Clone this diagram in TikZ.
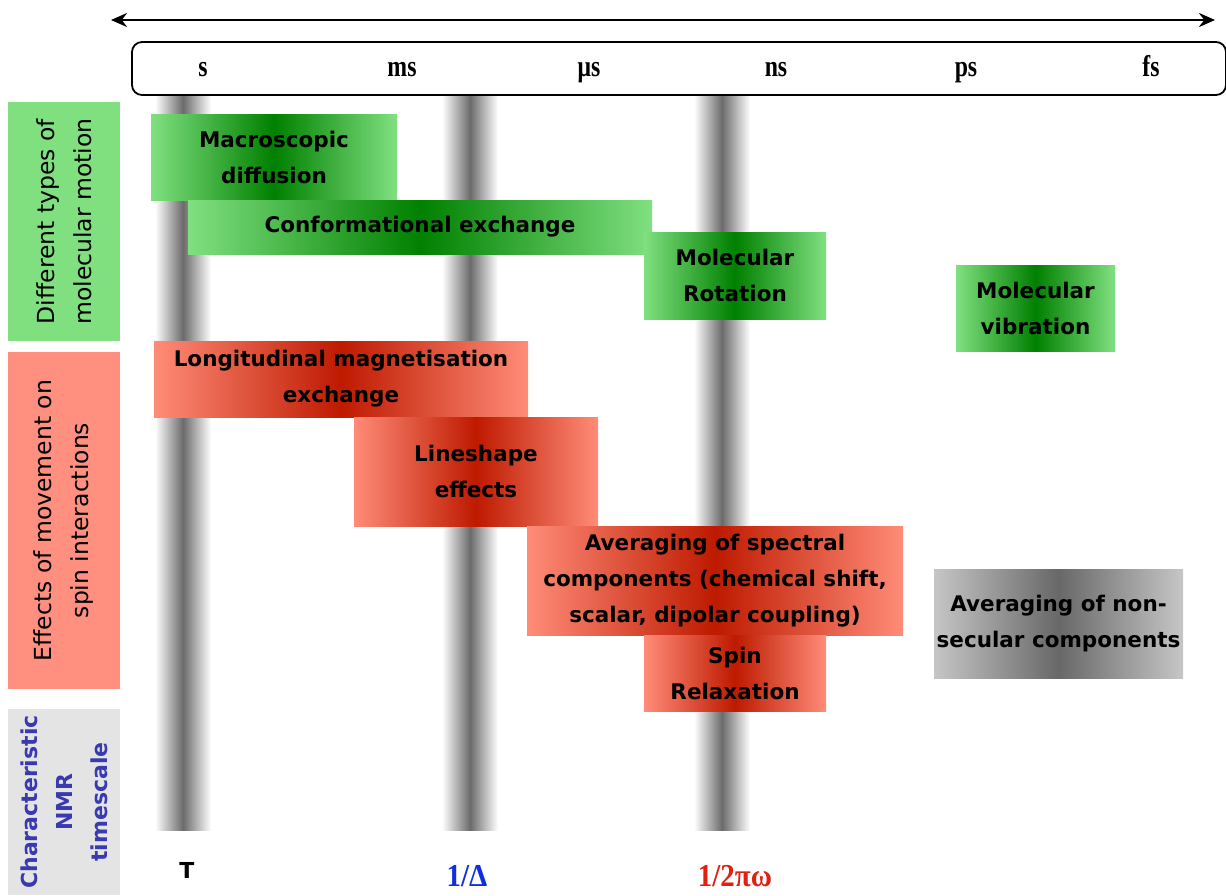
\documentclass[tikz,border=0pt]{standalone}
\usepackage{fontspec}
\usepackage{graphicx}
\setmainfont{Liberation Serif}
\newfontfamily\comic{DejaVu Sans}
\usetikzlibrary{arrows.meta}
\definecolor{lgreen}{HTML}{80E080}
\definecolor{dgreen}{HTML}{008000}
\definecolor{lred}{HTML}{FF8C78}
\definecolor{dred}{HTML}{BE1A00}
\definecolor{lgray}{HTML}{C6C6C6}
\definecolor{dgray}{HTML}{686868}
\definecolor{sidered}{HTML}{FF9080}
\definecolor{sidegray}{HTML}{E4E4E4}
\definecolor{nmrblue}{HTML}{3A3AB0}
\definecolor{dblue}{HTML}{1030E0}
\definecolor{dredtxt}{HTML}{E02010}
\newcommand{\tall}[1]{\scalebox{0.95}[1.2]{#1}}
\newcommand{\talll}[1]{\scalebox{1}[1.1]{#1}}
\begin{document}
\begin{tikzpicture}[x=1pt,y=-1pt,
  bar/.style={draw=none,inner sep=0pt,minimum width=56pt,minimum height=742pt,left color=white,right color=white,middle color=black!58},
  unit/.style={font=\fontsize{25}{28}\selectfont\bfseries,inner sep=0pt,anchor=base},
  side/.style={draw=none,inner sep=0pt,minimum height=112pt,rotate=90,align=center,font=\comic\fontsize{23.5}{37}\selectfont},
  boxfont/.style={font=\comic\bfseries\fontsize{21.5}{36}\selectfont},
  gbox/.style={draw=none,inner sep=0pt,align=center,left color=lgreen,right color=lgreen,middle color=dgreen,boxfont},
  rbox/.style={draw=none,inner sep=0pt,align=center,left color=lred,right color=lred,middle color=dred,boxfont},
  kbox/.style={draw=none,inner sep=0pt,align=center,left color=lgray,right color=lgray,middle color=dgray,boxfont},
  btm/.style={font=\fontsize{29}{32}\selectfont\bfseries,inner sep=0pt,anchor=base}]
\useasboundingbox (0,0) rectangle (1226,895);
% vertical timescale bars
\node[bar] (b1) at (183,459) {};
\node[bar] (b2) at (470,459) {};
\node[bar] (b3) at (722,459) {};
% top axis
\coordinate (al) at (111,20);
\coordinate (ar) at (1215,20);
\draw[{Stealth[length=16pt,width=14pt]}-{Stealth[length=16pt,width=14pt]},line width=2.5pt] (al) -- (ar);
\node[draw,line width=1.8pt,rounded corners=10pt,minimum width=1094pt,minimum height=53pt,inner sep=0pt,fill=white] (scale) at (679,68.5) {};
\node[unit] (s) at (203,76) {\tall{s}};
\node[unit] (ms) at (402,76) {\tall{ms}};
\node[unit] (us) at (589,76) {\tall{μs}};
\node[unit] (ns) at (776,76) {\tall{ns}};
\node[unit] (ps) at (966,76) {\tall{ps}};
\node[unit] (fs) at (1151,76) {\tall{fs}};
% side labels
\node[side,fill=lgreen,minimum width=239pt] (lab1) at (64,221.5) {Different types of\\molecular motion};
\node[side,fill=sidered,minimum width=337pt] (lab2) at (64,520.5) {Effects of movement on\\spin interactions};
\node[side,fill=sidegray,minimum width=186pt,text=nmrblue,font=\comic\bfseries\fontsize{22}{35}\selectfont] (lab3) at (64,802) {Characteristic\\NMR\\timescale};
% green boxes
\node[gbox,minimum width=246pt,minimum height=86pt] (macro) at (274,157) {Macroscopic\\diffusion};
\node[gbox,minimum width=464pt,minimum height=54pt] (conf) at (420,227) {Conformational exchange};
\node[gbox,minimum width=182pt,minimum height=87pt] (rot) at (735,275.5) {Molecular\\Rotation};
\node[gbox,minimum width=159pt,minimum height=86pt] (vib) at (1035.5,308) {Molecular\\vibration};
% red boxes
\node[rbox,minimum width=374pt,minimum height=76pt] (long) at (341,379) {Longitudinal magnetisation\\exchange};
\node[rbox,minimum width=244pt,minimum height=109pt] (line) at (476,471.5) {Lineshape\\effects};
\node[rbox,minimum width=376pt,minimum height=109pt] (avg) at (715,580.5) {Averaging of spectral\\components (chemical shift,\\scalar, dipolar coupling)};
\node[rbox,minimum width=182pt,minimum height=76pt] (spin) at (735,673) {Spin\\Relaxation};
% gray box
\node[kbox,minimum width=249pt,minimum height=109pt] (nonsec) at (1058.5,623.5) {Averaging of non-\\secular components};
% bottom labels
\node[btm,font=\comic\bfseries\fontsize{22}{24}\selectfont] (T) at (187,878) {T};
\node[btm,text=dblue] (delta) at (467,886) {\talll{1/Δ}};
\node[btm,text=dredtxt] (omega) at (735,886) {\talll{1/2πω}};
\end{tikzpicture}
\end{document}
